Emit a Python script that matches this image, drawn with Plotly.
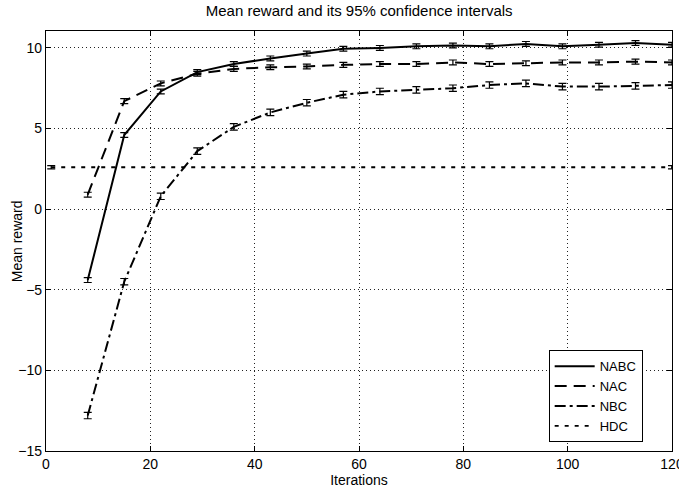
import plotly.graph_objects as go

iterations = [8, 15, 22, 29, 36, 43, 50, 57, 64, 71, 78, 85, 92, 99, 106, 113, 120]
nabc = [-4.4, 4.6, 7.3, 8.5, 9.0, 9.35, 9.65, 9.95, 10.0, 10.1, 10.15, 10.1, 10.25, 10.1, 10.2, 10.3, 10.2]
nac = [0.9, 6.7, 7.8, 8.4, 8.7, 8.8, 8.85, 8.95, 9.0, 9.0, 9.1, 9.0, 9.05, 9.1, 9.1, 9.15, 9.1]
nbc = [-12.8, -4.5, 0.8, 3.6, 5.1, 6.0, 6.6, 7.1, 7.3, 7.4, 7.5, 7.7, 7.8, 7.6, 7.6, 7.65, 7.7]
hdc_x = [1, 120]
hdc = [2.6, 2.6]
err_nabc = [0.15] * len(iterations)
err_nac = [0.15] * len(iterations)
err_nbc = [0.2] * len(iterations)
err_hdc = [0.1, 0.1]
x_ticks = [0, 20, 40, 60, 80, 100, 120]
y_ticks = [-15, -10, -5, 0, 5, 10]
y_ticklabels = ["\u221215", "\u221210", "\u22125", "0", "5", "10"]

series = [
    ("NABC", iterations, nabc, err_nabc, "solid", 2.0),
    ("NAC", iterations, nac, err_nac, "12px,7px", 2.0),
    ("NBC", iterations, nbc, err_nbc, "11px,4px,3px,4px", 2.0),
    ("HDC", hdc_x, hdc, err_hdc, "4px,6px", 1.8),
]

FONT = "Liberation Sans, Arial, sans-serif"

fig = go.Figure()
for name, xs, ys, es, dash, w in series:
    fig.add_trace(go.Scatter(
        x=xs, y=ys, name=name, mode="lines",
        line=dict(color="black", dash=dash, width=w),
        error_y=dict(type="data", array=es, visible=True, color="black", thickness=1.2, width=4),
    ))

axis_common = dict(
    showline=True, linecolor="black", linewidth=1.2, mirror="ticks",
    ticks="inside", ticklen=5, tickcolor="black",
    showgrid=True, gridcolor="#222", griddash="1px,3px", gridwidth=1.2,
    zeroline=False, tickfont=dict(family=FONT, size=14, color="black"),
    ticklabeloverflow="allow",
)

fig.update_xaxes(range=[0, 120], tickvals=x_ticks, ticktext=[str(v) for v in x_ticks],
                 title=dict(text="Iterations", standoff=3,
                 font=dict(family=FONT, size=14, color="black")), **axis_common)
fig.update_yaxes(range=[-15, 11.05], tickvals=y_ticks, ticktext=y_ticklabels, **axis_common)

fig.add_annotation(text="Mean reward", xref="paper", yref="paper", x=-0.046, y=0.5,
                   xanchor="center", yanchor="middle", textangle=-90, showarrow=False,
                   font=dict(family=FONT, size=14, color="black"))

fig.update_layout(
    width=679, height=488,
    margin=dict(l=46, r=7, t=31, b=37, autoexpand=False),
    paper_bgcolor="white", plot_bgcolor="white",
    title=dict(text="Mean reward and its 95% confidence intervals", x=0.529, xanchor="center",
               y=0.988, yanchor="top",
               font=dict(family=FONT, size=15, color="black")),
    legend=dict(x=0.803, y=0.24, xanchor="left", yanchor="top",
                bordercolor="black", borderwidth=1, bgcolor="white",
                font=dict(family=FONT, size=13, color="black"),
                itemwidth=40, tracegroupgap=0),
    showlegend=True,
)

fig.write_html("out.html")
